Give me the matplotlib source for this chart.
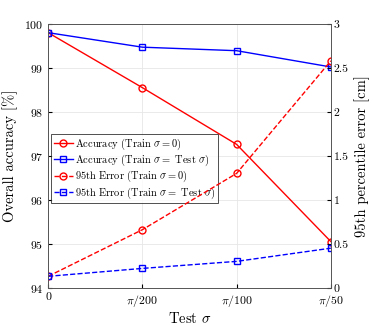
import numpy as np
import matplotlib
matplotlib.use("Agg")
import matplotlib.pyplot as plt

plt.rcParams["font.family"] = "serif"
plt.rcParams["font.serif"] = ["cmr10"]
plt.rcParams["mathtext.fontset"] = "cm"
plt.rcParams["axes.formatter.use_mathtext"] = True

xlabels = ["0", r"$\pi/200$", r"$\pi/100$", r"$\pi/50$"]
acc_train0 = [99.8, 98.55, 97.26, 95.05]
acc_trainTest = [99.8, 99.47, 99.39, 99.02]
err_train0 = [0.13, 0.66, 1.30, 2.58]
err_trainTest = [0.13, 0.22, 0.30, 0.45]

x = np.arange(len(xlabels))

fig, ax = plt.subplots(figsize=(3.73, 3.27), dpi=100)
fig.subplots_adjust(left=0.129, right=0.887, top=0.927, bottom=0.12)
ax2 = ax.twinx()

l1, = ax.plot(x, acc_train0, "-o", color="red", lw=1, ms=5, mfc="none", mew=1,
              label=r"Accuracy (Train $\sigma = 0$)")
l2, = ax.plot(x, acc_trainTest, "-s", color="blue", lw=1, ms=4, mfc="none", mew=1,
              label=r"Accuracy (Train $\sigma =$ Test $\sigma$)")
l3, = ax2.plot(x, err_train0, "--o", color="red", lw=1, ms=5, mfc="none", mew=1,
               label=r"95th Error (Train $\sigma = 0$)")
l4, = ax2.plot(x, err_trainTest, "--s", color="blue", lw=1, ms=4, mfc="none", mew=1,
               label=r"95th Error (Train $\sigma =$ Test $\sigma$)")

ax.set_xlim(0, 3)
ax.set_ylim(94, 100)
ax2.set_ylim(0, 3)
ax.set_xticks(x)
ax.set_xticklabels(xlabels)
ax2.set_yticks([0, 0.5, 1, 1.5, 2, 2.5, 3])
ax2.set_yticklabels(["0", "0.5", "1", "1.5", "2", "2.5", "3"])
ax.grid(True, color="#e6e6e6", lw=0.6)
ax.set_axisbelow(True)

ax.tick_params(direction="in", labelsize=8.5, length=3)
ax2.tick_params(direction="in", labelsize=8.5, length=3, pad=2)
for a in (ax, ax2):
    for s in a.spines.values():
        s.set_color("#555555")
        s.set_linewidth(0.6)

ax.set_xlabel(r"Test $\sigma$", fontsize=10.5, labelpad=2)
ax.set_ylabel("Overall accuracy [%]", fontsize=10.5, labelpad=4)
ax2.set_ylabel("95th percentile error [cm]", fontsize=10.5, labelpad=4)

leg = ax.legend(handles=[l1, l2, l3, l4], loc="upper left", bbox_to_anchor=(0.0, 0.595),
                fontsize=7.5, frameon=True, fancybox=False, borderpad=0.25,
                labelspacing=0.1, handlelength=1.8, handletextpad=0.2,
                borderaxespad=0.3)
leg.get_frame().set_edgecolor("black")
leg.get_frame().set_linewidth(0.6)

plt.savefig("out.png", dpi=100)
